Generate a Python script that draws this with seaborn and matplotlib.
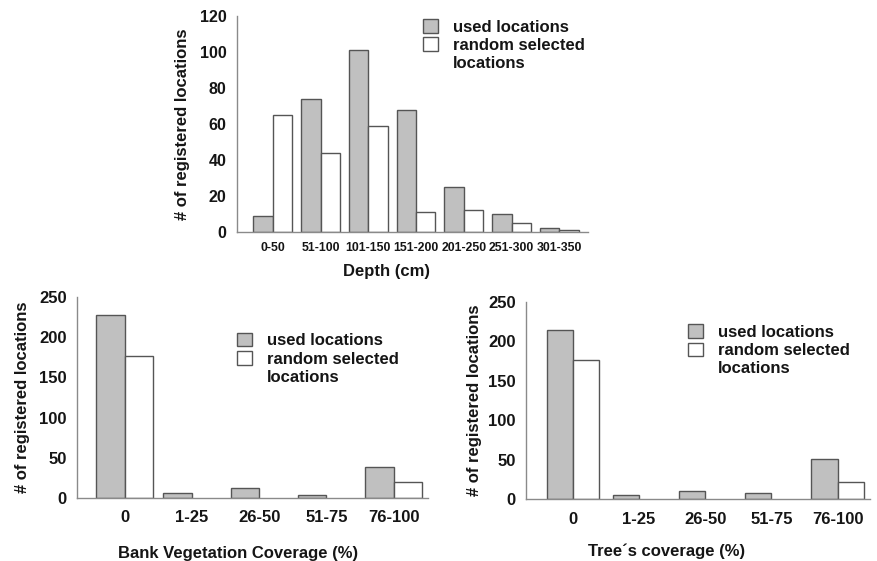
import matplotlib
matplotlib.use("Agg")
import matplotlib.pyplot as plt
from matplotlib.patches import Patch
import seaborn as sns
import pandas as pd

# ---- data ----
depth_cats = ["0-50", "51-100", "101-150", "151-200", "201-250", "251-300", "301-350"]
depth_used = [9, 74, 101, 68, 25, 10, 2]
depth_random = [65, 44, 59, 11, 12, 5, 1]

cov_cats = ["0", "1-25", "26-50", "51-75", "76-100"]
bank_used = [228, 6, 12, 4, 39]
bank_random = [177, 0, 0, 0, 20]
tree_used = [215, 5, 10, 8, 51]
tree_random = [176, 0, 0, 0, 22]

series_names = ["used locations", "random selected locations"]

sns.set_theme(style="white")
plt.rcParams['font.family'] = ['Liberation Sans', 'DejaVu Sans']
plt.rcParams['font.weight'] = 'bold'

GRAY = "#c0c0c0"
EDGE = "#555555"
SPINE = "#8a8a8a"
TXT = "#151515"


def long_df(cats, used, rnd):
    return pd.DataFrame({
        "cat": list(cats) * 2,
        "count": list(used) + list(rnd),
        "series": [series_names[0]] * len(cats) + [series_names[1]] * len(cats),
    })


fig = plt.figure(figsize=(8.78, 5.61), dpi=100)


def panel(rect, cats, used, rnd, ymax, ystep, xlim, width, xlabel, xlab_xy,
          ylab_dx, leg_anchor, xtick_size, xtick_pad, ytick_size):
    ax = fig.add_axes(rect)
    df = long_df(cats, used, rnd)
    sns.barplot(data=df, x="cat", y="count", hue="series", order=cats,
                hue_order=series_names, palette=[GRAY, "white"],
                edgecolor=EDGE, linewidth=1.0, width=width, gap=0,
                legend=False, ax=ax, saturation=1)
    # zero-count bars are not drawn in the original
    for p in ax.patches:
        if p.get_height() == 0:
            p.set_visible(False)
    ax.set_ylim(0, ymax)
    ax.set_xlim(*xlim)
    ax.set_yticks(range(0, ymax + 1, ystep))
    for s in ["top", "right"]:
        ax.spines[s].set_visible(False)
    for s in ["left", "bottom"]:
        ax.spines[s].set_color(SPINE)
        ax.spines[s].set_linewidth(1.0)
    ax.tick_params(axis="y", length=2, width=0.8, color=SPINE, pad=5.5,
                   labelsize=ytick_size, labelcolor=TXT)
    ax.tick_params(axis="x", length=0, pad=xtick_pad, labelsize=xtick_size,
                   labelcolor=TXT)
    for lab in ax.get_xticklabels() + ax.get_yticklabels():
        lab.set_fontweight("bold")
    ax.set_xlabel(xlabel, fontsize=12, fontweight="bold", color=TXT)
    ax.xaxis.set_label_coords(*xlab_xy)
    ax.set_ylabel("# of registered locations", fontsize=12,
                  fontweight="bold", color=TXT)
    ax.yaxis.set_label_coords(ylab_dx, 0.5)
    handles = [Patch(facecolor=GRAY, edgecolor=EDGE, linewidth=1.0),
               Patch(facecolor="white", edgecolor=EDGE, linewidth=1.0),
               Patch(facecolor="none", edgecolor="none")]
    labels = ["used locations", "random selected", "locations"]
    leg = ax.legend(handles, labels, loc="upper left", bbox_to_anchor=leg_anchor,
                    frameon=False, borderpad=0, borderaxespad=0, handlelength=0.9,
                    handleheight=0.85, handletextpad=0.9, labelspacing=0.17,
                    prop={"size": 12, "weight": "bold"})
    for t in leg.get_texts():
        t.set_color(TXT)
    return ax


# top: depth
panel([237 / 878, (561 - 232) / 561, 351 / 878, 216 / 561],
      depth_cats, depth_used, depth_random, 120, 20, (-0.75, 6.6), 0.81,
      "Depth (cm)", (0.427, -0.148), -47 / 351, (0.530, 0.985), 8.8, 7, 11.5)

# bottom left: bank vegetation
panel([77 / 878, (561 - 498) / 561, 351 / 878, 201 / 561],
      cov_cats, bank_used, bank_random, 250, 50, (-0.71, 4.51), 0.85,
      "Bank Vegetation Coverage (%)", (0.459, -0.238), -47 / 351,
      (0.456, 0.821), 12, 9, 12)

# bottom right: tree coverage
panel([526 / 878, (561 - 499) / 561, 344 / 878, 197 / 561],
      cov_cats, tree_used, tree_random, 250, 50, (-0.71, 4.49), 0.80,
      "Tree\u00b4s coverage (%)", (0.41, -0.228), -44 / 344,
      (0.471, 0.886), 12, 9, 12)

fig.savefig("out.png", dpi=100)
